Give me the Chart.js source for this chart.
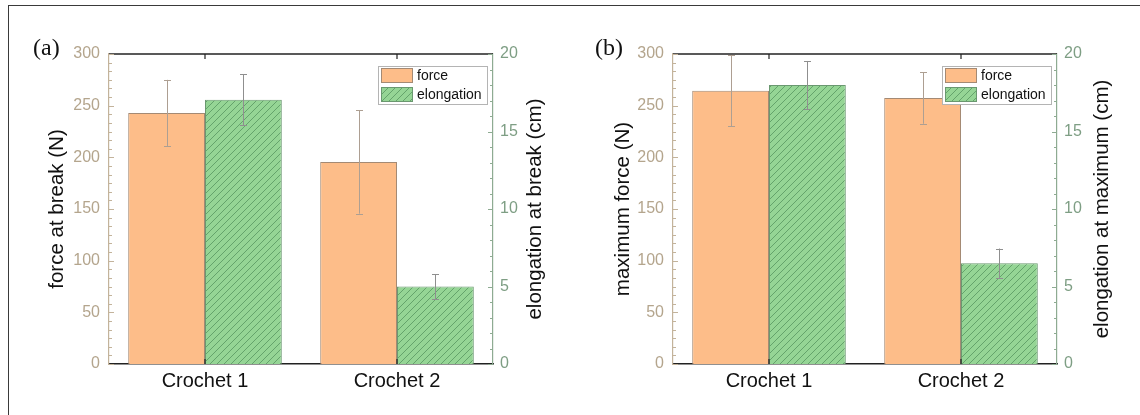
<!DOCTYPE html>
<html>
<head>
<meta charset="utf-8">
<script src="https://cdn.jsdelivr.net/npm/chart.js@4/dist/chart.umd.min.js"></script>
<style>
  html, body { margin: 0; padding: 0; background: #fff; }
  #wrap { position: relative; width: 1140px; height: 415px; overflow: hidden; }
  #frame { position: absolute; left: 8px; top: 5px; width: 1200px; height: 500px;
           border-left: 1.5px solid #3a3a3a; border-top: 1.5px solid #3a3a3a; }
  .panel { position: absolute; top: 0; width: 570px; height: 415px; }
</style>
</head>
<body>
<div id="wrap">
  <div id="frame"></div>
  <div class="panel" style="left:0"><canvas id="chartA" width="570" height="415"></canvas></div>
  <div class="panel" style="left:570px"><canvas id="chartB" width="570" height="415"></canvas></div>
</div>
<script>
// ---- data ----
const categories = ['Crochet 1', 'Crochet 2'];
const seriesNames = ['force', 'elongation'];

const breakForce = [243, 195.5];
const breakForceErr = [32, 50];
const breakElong = [17.05, 5.0];
const breakElongErr = [1.65, 0.8];

const maxForce = [264.5, 257.5];
const maxForceErr = [34.5, 25];
const maxElong = [18.0, 6.5];
const maxElongErr = [1.55, 0.95];

const forceTicks = [0, 50, 100, 150, 200, 250, 300];
const elongTicks = [0, 5, 10, 15, 20];
const forceMinorPerMajor = 5;
const elongMinorPerMajor = 4;

// ---- styles ----
const SANS = '"Liberation Sans", Arial, sans-serif';
const SERIF = '"Liberation Serif", "Times New Roman", serif';
const ORANGE = '#fdbd89';
const ORANGE_EDGE = '#a48a74';
const GREEN_EDGE = '#6a9870';
const FORCE_AXIS = '#c3b39b';
const FORCE_TEXT = '#b4a58d';
const ELONG_AXIS = '#8eab92';
const ELONG_TEXT = '#7e9e84';

function hatchPattern() {
  const s = 7;
  const c = document.createElement('canvas');
  c.width = c.height = s;
  const g = c.getContext('2d');
  g.fillStyle = '#95d595';
  g.fillRect(0, 0, s, s);
  g.strokeStyle = '#5f9d66';
  g.lineWidth = 0.9;
  g.beginPath();
  g.moveTo(0, s); g.lineTo(s, 0);
  g.moveTo(-1, 1); g.lineTo(1, -1);
  g.moveTo(s - 1, s + 1); g.lineTo(s + 1, s - 1);
  g.stroke();
  return g.createPattern(c, 'repeat');
}
const GREEN_HATCH = hatchPattern();

function fixedTicks(values) {
  return scale => { scale.ticks = values.map(v => ({ value: v })); };
}

// decorations: error bars, frame axes, minor ticks, titles, legend, panel letter
const panelDecor = {
  id: 'panelDecor',
  afterDatasetsDraw(chart) {
    const ctx = chart.ctx;
    const errs = chart.options.plugins.panelDecor.errors;
    chart.data.datasets.forEach((ds, i) => {
      const meta = chart.getDatasetMeta(i);
      const ys = chart.scales[ds.yAxisID];
      ctx.save();
      ctx.strokeStyle = i === 0 ? '#ad9f92' : '#8f8f8f';
      ctx.lineWidth = 1;
      meta.data.forEach((bar, j) => {
        const v = ds.data[j], e = errs[i][j];
        const x = Math.round(bar.x) + 0.5;
        const y1 = ys.getPixelForValue(v + e), y0 = ys.getPixelForValue(v - e);
        ctx.beginPath();
        ctx.moveTo(x, y1); ctx.lineTo(x, y0);
        ctx.moveTo(x - 3.5, Math.round(y1) + 0.5); ctx.lineTo(x + 3.5, Math.round(y1) + 0.5);
        ctx.moveTo(x - 3.5, Math.round(y0) + 0.5); ctx.lineTo(x + 3.5, Math.round(y0) + 0.5);
        ctx.stroke();
      });
      ctx.restore();
    });
  },
  afterDraw(chart) {
    const ctx = chart.ctx;
    const o = chart.options.plugins.panelDecor;
    const a = chart.chartArea;
    const xs = chart.scales.x, yF = chart.scales.yF, yE = chart.scales.yE;
    ctx.save();

    // top frame line and category ticks
    ctx.strokeStyle = '#222';
    ctx.lineWidth = 1.5;
    ctx.beginPath();
    ctx.moveTo(a.left, a.top); ctx.lineTo(a.right, a.top);
    ctx.stroke();
    ctx.lineWidth = 1.2;
    categories.forEach((c, i) => {
      const x = xs.getPixelForValue(i);
      ctx.beginPath();
      ctx.moveTo(x, a.top); ctx.lineTo(x, a.top + 5);
      ctx.moveTo(x, a.bottom); ctx.lineTo(x, a.bottom - 5);
      ctx.stroke();
    });

    // inward major and minor ticks on both value axes
    const drawTicks = (scale, values, minors, color, side) => {
      ctx.strokeStyle = color;
      ctx.lineWidth = 1;
      const base = side === 'left' ? a.left : a.right;
      const dir = side === 'left' ? 1 : -1;
      for (let k = 0; k < values.length; k++) {
        const y = Math.round(scale.getPixelForValue(values[k])) + 0.5;
        ctx.beginPath(); ctx.moveTo(base, y); ctx.lineTo(base + dir * 5, y); ctx.stroke();
        if (k < values.length - 1) {
          const step = (values[k + 1] - values[k]) / (minors + 1);
          for (let m = 1; m <= minors; m++) {
            const ym = Math.round(scale.getPixelForValue(values[k] + m * step)) + 0.5;
            ctx.beginPath(); ctx.moveTo(base, ym); ctx.lineTo(base + dir * 3, ym); ctx.stroke();
          }
        }
      }
    };
    drawTicks(yF, forceTicks, forceMinorPerMajor, FORCE_AXIS, 'left');
    drawTicks(yE, elongTicks, elongMinorPerMajor, ELONG_AXIS, 'right');

    // axis titles, both reading bottom to top
    const cy = (a.top + a.bottom) / 2;
    ctx.fillStyle = '#111';
    ctx.font = '20.5px ' + SANS;
    ctx.textAlign = 'center';
    ctx.textBaseline = 'middle';
    [[o.leftTitleX, o.leftTitle], [o.rightTitleX, o.rightTitle]].forEach(([x, t]) => {
      ctx.save();
      ctx.translate(x, cy);
      ctx.rotate(-Math.PI / 2);
      ctx.fillText(t, 0, 0);
      ctx.restore();
    });

    // panel letter
    ctx.font = '24px ' + SERIF;
    ctx.textAlign = 'left';
    ctx.textBaseline = 'alphabetic';
    ctx.fillText(o.letter, o.letterX, 55);

    // legend box
    const w = 109, h = 38;
    const lx = a.right - 6 - w, ly = a.top + 12;
    ctx.fillStyle = '#fff';
    ctx.fillRect(lx, ly, w, h);
    ctx.strokeStyle = '#b4b4b4';
    ctx.lineWidth = 1;
    ctx.strokeRect(lx + 0.5, ly + 0.5, w, h);
    ctx.font = '14px ' + SANS;
    ctx.textBaseline = 'middle';
    chart.data.datasets.forEach((ds, i) => {
      const sy = ly + 2 + i * 19;
      ctx.fillStyle = ds.backgroundColor;
      ctx.fillRect(lx + 3, sy, 32, 15);
      ctx.strokeStyle = ds.borderColor;
      ctx.strokeRect(lx + 3.5, sy + 0.5, 31, 14);
      ctx.fillStyle = '#111';
      ctx.fillText(ds.label, lx + 39, sy + 8);
    });
    ctx.restore();
  }
};

function makePanel(id, force, forceErr, elong, elongErr, p) {
  return new Chart(document.getElementById(id), {
    type: 'bar',
    data: {
      labels: categories,
      datasets: [
        { label: seriesNames[0], data: force, yAxisID: 'yF',
          backgroundColor: ORANGE, borderColor: ORANGE_EDGE, borderWidth: 1,
          categoryPercentage: 0.8, barPercentage: 1.0 },
        { label: seriesNames[1], data: elong, yAxisID: 'yE',
          backgroundColor: GREEN_HATCH, borderColor: GREEN_EDGE, borderWidth: 1,
          categoryPercentage: 0.8, barPercentage: 1.0 }
      ]
    },
    options: {
      responsive: false,
      animation: false,
      events: [],
      layout: { padding: { top: 54, left: 0, right: 0, bottom: 0 } },
      scales: {
        x: {
          offset: true,
          grid: { display: false, drawTicks: false },
          border: { color: '#222', width: 1.5 },
          ticks: { color: '#111', font: { size: 20, family: SANS }, padding: 5 },
          afterFit: s => { s.height = 51; }
        },
        yF: {
          position: 'left', min: forceTicks[0], max: forceTicks[forceTicks.length - 1],
          afterBuildTicks: fixedTicks(forceTicks),
          grid: { display: false, drawTicks: false },
          border: { color: FORCE_AXIS, width: 1.2 },
          ticks: { color: FORCE_TEXT, font: { size: 16, family: SANS }, padding: 9 },
          afterFit: s => { s.width = p.leftW; }
        },
        yE: {
          position: 'right', min: elongTicks[0], max: elongTicks[elongTicks.length - 1],
          afterBuildTicks: fixedTicks(elongTicks),
          grid: { display: false, drawTicks: false },
          border: { color: ELONG_AXIS, width: 1.2 },
          ticks: { color: ELONG_TEXT, font: { size: 16, family: SANS }, padding: 7 },
          afterFit: s => { s.width = p.rightW; }
        }
      },
      plugins: {
        legend: { display: false },
        tooltip: { enabled: false },
        panelDecor: {
          errors: [forceErr, elongErr],
          leftTitle: p.leftTitle, rightTitle: p.rightTitle,
          leftTitleX: p.leftTitleX, rightTitleX: p.rightTitleX,
          letter: p.letter, letterX: p.letterX
        }
      }
    },
    plugins: [panelDecor]
  });
}

makePanel('chartA', breakForce, breakForceErr, breakElong, breakElongErr, {
  leftW: 109, rightW: 77,
  leftTitle: 'force at break (N)', rightTitle: 'elongation at break (cm)',
  leftTitleX: 57, rightTitleX: 535, letter: '(a)', letterX: 33
});
makePanel('chartB', maxForce, maxForceErr, maxElong, maxElongErr, {
  leftW: 103, rightW: 83,
  leftTitle: 'maximum force (N)', rightTitle: 'elongation at maximum (cm)',
  leftTitleX: 53, rightTitleX: 532, letter: '(b)', letterX: 25
});
</script>
</body>
</html>
